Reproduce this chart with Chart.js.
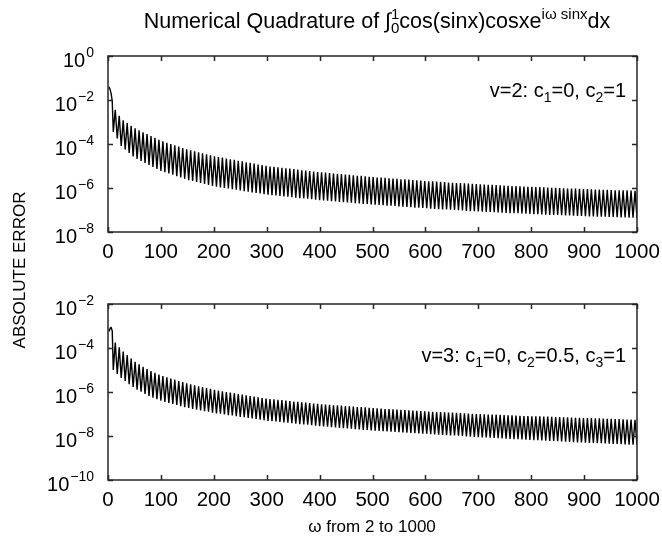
<!DOCTYPE html>
<html>
<head>
<meta charset="utf-8">
<script src="https://cdn.jsdelivr.net/npm/chart.js@4.4.0/dist/chart.umd.min.js"></script>
<style>
  html, body { margin: 0; padding: 0; background: #fff; }
  #wrap { position: relative; width: 662px; height: 546px; }
  #wrap canvas { position: absolute; left: 0; top: 0; }
</style>
</head>
<body>
<div id="wrap">
  <canvas id="chartV3" width="662" height="546"></canvas>
  <canvas id="chartV2" width="662" height="546"></canvas>
</div>
<script>
/* global Chart */

// omega values where the error curve starts, dips and peaks
const startOmega = [2, 4, 6, 8];
const dipOmega = [
  10, 17.5, 25, 32.5, 40, 47.5, 55, 62.5, 70, 77.5,
  85, 92.5, 100, 107.5, 115, 122.5, 130, 137.5, 145, 152.5,
  160, 167.5, 175, 182.5, 190, 197.5, 205, 212.5, 220, 227.5,
  235, 242.5, 250, 257.5, 265, 272.5, 280, 287.5, 295, 302.5,
  310, 317.5, 325, 332.5, 340, 347.5, 355, 362.5, 370, 377.5,
  385, 392.5, 400, 407.5, 415, 422.5, 430, 437.5, 445, 452.5,
  460, 467.5, 475, 482.5, 490, 497.5, 505, 512.5, 520, 527.5,
  535, 542.5, 550, 557.5, 565, 572.5, 580, 587.5, 595, 602.5,
  610, 617.5, 625, 632.5, 640, 647.5, 655, 662.5, 670, 677.5,
  685, 692.5, 700, 707.5, 715, 722.5, 730, 737.5, 745, 752.5,
  760, 767.5, 775, 782.5, 790, 797.5, 805, 812.5, 820, 827.5,
  835, 842.5, 850, 857.5, 865, 872.5, 880, 887.5, 895, 902.5,
  910, 917.5, 925, 932.5, 940, 947.5, 955, 962.5, 970, 977.5,
  985, 992.5, 1000
];
const peakOmega = [
  13.75, 21.25, 28.75, 36.25, 43.75, 51.25, 58.75, 66.25, 73.75, 81.25,
  88.75, 96.25, 103.75, 111.25, 118.75, 126.25, 133.75, 141.25, 148.75, 156.25,
  163.75, 171.25, 178.75, 186.25, 193.75, 201.25, 208.75, 216.25, 223.75, 231.25,
  238.75, 246.25, 253.75, 261.25, 268.75, 276.25, 283.75, 291.25, 298.75, 306.25,
  313.75, 321.25, 328.75, 336.25, 343.75, 351.25, 358.75, 366.25, 373.75, 381.25,
  388.75, 396.25, 403.75, 411.25, 418.75, 426.25, 433.75, 441.25, 448.75, 456.25,
  463.75, 471.25, 478.75, 486.25, 493.75, 501.25, 508.75, 516.25, 523.75, 531.25,
  538.75, 546.25, 553.75, 561.25, 568.75, 576.25, 583.75, 591.25, 598.75, 606.25,
  613.75, 621.25, 628.75, 636.25, 643.75, 651.25, 658.75, 666.25, 673.75, 681.25,
  688.75, 696.25, 703.75, 711.25, 718.75, 726.25, 733.75, 741.25, 748.75, 756.25,
  763.75, 771.25, 778.75, 786.25, 793.75, 801.25, 808.75, 816.25, 823.75, 831.25,
  838.75, 846.25, 853.75, 861.25, 868.75, 876.25, 883.75, 891.25, 898.75, 906.25,
  913.75, 921.25, 928.75, 936.25, 943.75, 951.25, 958.75, 966.25, 973.75, 981.25,
  988.75, 996.25
];

// absolute error as log10, v=2 panel
const startLogV2 = [-1.40, -1.52, -1.72, -2.05];
const dipLogV2 = [
  -3.45, -3.75, -4.09, -4.25, -4.41, -4.57, -4.68, -4.77, -4.86, -4.95,
  -5.04, -5.13, -5.22, -5.28, -5.34, -5.40, -5.46, -5.52, -5.58, -5.64,
  -5.68, -5.73, -5.77, -5.82, -5.86, -5.91, -5.94, -5.97, -6.00, -6.02,
  -6.05, -6.08, -6.11, -6.14, -6.17, -6.20, -6.22, -6.25, -6.28, -6.31,
  -6.33, -6.34, -6.36, -6.38, -6.40, -6.42, -6.44, -6.46, -6.48, -6.49,
  -6.51, -6.53, -6.55, -6.57, -6.58, -6.60, -6.61, -6.63, -6.64, -6.66,
  -6.67, -6.69, -6.70, -6.72, -6.73, -6.75, -6.76, -6.77, -6.78, -6.80,
  -6.81, -6.82, -6.84, -6.85, -6.86, -6.87, -6.89, -6.90, -6.91, -6.92,
  -6.94, -6.95, -6.96, -6.97, -6.98, -6.99, -7.00, -7.01, -7.02, -7.04,
  -7.05, -7.06, -7.07, -7.08, -7.09, -7.09, -7.10, -7.11, -7.12, -7.13,
  -7.14, -7.15, -7.15, -7.16, -7.17, -7.18, -7.19, -7.19, -7.20, -7.21,
  -7.22, -7.22, -7.23, -7.24, -7.25, -7.25, -7.26, -7.27, -7.27, -7.28,
  -7.29, -7.29, -7.30, -7.31, -7.31, -7.32, -7.32, -7.33, -7.34, -7.34,
  -7.35, -7.35, -7.36
];
const peakLogV2 = [
  -2.45, -2.72, -2.92, -3.05, -3.17, -3.29, -3.38, -3.47, -3.55, -3.64,
  -3.72, -3.81, -3.88, -3.94, -4.00, -4.06, -4.12, -4.18, -4.24, -4.29,
  -4.33, -4.38, -4.42, -4.47, -4.51, -4.56, -4.59, -4.62, -4.66, -4.69,
  -4.72, -4.76, -4.79, -4.83, -4.86, -4.89, -4.93, -4.96, -4.99, -5.02,
  -5.04, -5.06, -5.08, -5.10, -5.12, -5.14, -5.16, -5.19, -5.21, -5.23,
  -5.25, -5.27, -5.29, -5.30, -5.32, -5.34, -5.35, -5.37, -5.39, -5.40,
  -5.42, -5.44, -5.45, -5.47, -5.49, -5.50, -5.52, -5.53, -5.54, -5.56,
  -5.57, -5.58, -5.60, -5.61, -5.62, -5.64, -5.65, -5.66, -5.68, -5.69,
  -5.70, -5.71, -5.72, -5.73, -5.75, -5.76, -5.77, -5.78, -5.79, -5.80,
  -5.81, -5.82, -5.83, -5.84, -5.85, -5.86, -5.87, -5.88, -5.89, -5.90,
  -5.91, -5.91, -5.92, -5.93, -5.94, -5.95, -5.96, -5.96, -5.97, -5.98,
  -5.99, -5.99, -6.00, -6.01, -6.02, -6.03, -6.03, -6.04, -6.05, -6.05,
  -6.06, -6.07, -6.07, -6.08, -6.08, -6.09, -6.10, -6.10, -6.11, -6.11,
  -6.12, -6.13
];

// absolute error as log10, v=3 panel
const startLogV3 = [-3.25, -3.10, -3.07, -3.22];
const dipLogV3 = [
  -5.00, -5.18, -5.36, -5.50, -5.64, -5.77, -5.89, -5.99, -6.09, -6.18,
  -6.26, -6.33, -6.40, -6.45, -6.50, -6.54, -6.59, -6.64, -6.69, -6.73,
  -6.77, -6.80, -6.84, -6.87, -6.90, -6.94, -6.97, -6.99, -7.02, -7.05,
  -7.07, -7.10, -7.13, -7.15, -7.18, -7.20, -7.23, -7.26, -7.28, -7.31,
  -7.33, -7.34, -7.36, -7.38, -7.40, -7.42, -7.44, -7.46, -7.48, -7.49,
  -7.51, -7.53, -7.55, -7.57, -7.58, -7.60, -7.61, -7.63, -7.64, -7.66,
  -7.67, -7.69, -7.70, -7.72, -7.73, -7.75, -7.76, -7.77, -7.78, -7.79,
  -7.80, -7.81, -7.83, -7.84, -7.85, -7.86, -7.87, -7.88, -7.89, -7.90,
  -7.92, -7.93, -7.94, -7.95, -7.96, -7.97, -7.98, -7.99, -8.00, -8.02,
  -8.03, -8.04, -8.05, -8.06, -8.07, -8.08, -8.09, -8.10, -8.11, -8.12,
  -8.13, -8.14, -8.15, -8.16, -8.17, -8.18, -8.19, -8.19, -8.20, -8.21,
  -8.22, -8.23, -8.24, -8.25, -8.26, -8.27, -8.28, -8.29, -8.29, -8.30,
  -8.31, -8.32, -8.33, -8.33, -8.34, -8.35, -8.36, -8.36, -8.37, -8.38,
  -8.39, -8.39, -8.40
];
const peakLogV3 = [
  -3.75, -3.97, -4.16, -4.32, -4.48, -4.63, -4.74, -4.85, -4.96, -5.05,
  -5.13, -5.21, -5.28, -5.33, -5.39, -5.44, -5.50, -5.55, -5.61, -5.65,
  -5.70, -5.74, -5.78, -5.82, -5.86, -5.90, -5.94, -5.97, -6.00, -6.03,
  -6.06, -6.09, -6.12, -6.15, -6.18, -6.21, -6.24, -6.27, -6.30, -6.32,
  -6.33, -6.35, -6.37, -6.39, -6.41, -6.43, -6.45, -6.47, -6.48, -6.50,
  -6.52, -6.54, -6.56, -6.57, -6.58, -6.60, -6.61, -6.62, -6.64, -6.65,
  -6.66, -6.68, -6.69, -6.70, -6.72, -6.73, -6.74, -6.75, -6.77, -6.78,
  -6.79, -6.80, -6.81, -6.82, -6.83, -6.84, -6.86, -6.87, -6.88, -6.89,
  -6.90, -6.91, -6.91, -6.92, -6.93, -6.94, -6.95, -6.96, -6.97, -6.98,
  -6.99, -7.00, -7.00, -7.01, -7.02, -7.03, -7.03, -7.04, -7.05, -7.06,
  -7.06, -7.07, -7.08, -7.09, -7.09, -7.10, -7.11, -7.11, -7.12, -7.12,
  -7.13, -7.14, -7.14, -7.15, -7.15, -7.16, -7.17, -7.17, -7.18, -7.19,
  -7.19, -7.20, -7.20, -7.21, -7.22, -7.22, -7.23, -7.23, -7.24, -7.25,
  -7.25, -7.26
];

// axis ticks
const xTicks = [0, 100, 200, 300, 400, 500, 600, 700, 800, 900, 1000];
const yExpV2 = [0, -2, -4, -6, -8];
const yExpV3 = [-2, -4, -6, -8, -10];

const FONT = '"Liberation Sans", Arial, Helvetica, sans-serif';

function setFont(ctx, px) { ctx.font = px + 'px ' + FONT; }

function buildPoints(startLog, dipLog, peakLog) {
  const pts = startOmega.map((w, i) => ({ x: w, y: Math.pow(10, startLog[i]) }));
  for (let k = 0; k < dipOmega.length; k++) {
    pts.push({ x: dipOmega[k], y: Math.pow(10, dipLog[k]) });
    if (k < peakOmega.length) pts.push({ x: peakOmega[k], y: Math.pow(10, peakLog[k]) });
  }
  return pts;
}

// parts: [text, kind, extra]; kind '' | 'sub' | 'sup' | 'lim' (sub text, sup text stacked)
function partWidth(ctx, p, size) {
  if (p[1] === 'lim') {
    setFont(ctx, size * 0.7);
    return Math.max(ctx.measureText(p[0]).width, ctx.measureText(p[2]).width);
  }
  setFont(ctx, p[1] ? size * 0.7 : size);
  return ctx.measureText(p[0]).width;
}

function drawRich(ctx, parts, x, y, size, align) {
  let w = 0;
  parts.forEach(p => { w += partWidth(ctx, p, size); });
  let cx = align === 'center' ? x - w / 2 : (align === 'right' ? x - w : x);
  ctx.textAlign = 'left';
  ctx.textBaseline = 'alphabetic';
  parts.forEach(p => {
    const pw = partWidth(ctx, p, size);
    if (p[1] === 'lim') {
      ctx.fillText(p[0], cx, y + size * 0.25);
      ctx.fillText(p[2], cx, y - size * 0.42);
    } else if (p[1] === 'sub') {
      ctx.fillText(p[0], cx, y + size * 0.25);
    } else if (p[1] === 'sup') {
      ctx.fillText(p[0], cx, y - size * 0.42);
    } else {
      ctx.fillText(p[0], cx, y);
    }
    cx += pw;
  });
}

function framePlugin(yExp, note, notePos, extra) {
  return {
    id: 'frame',
    afterDatasetsDraw(chart) {
      const { ctx, chartArea: a } = chart;
      const xs = chart.scales.x;
      const ys = chart.scales.y;
      ctx.save();
      ctx.strokeStyle = '#262626';
      ctx.lineWidth = 1.5;
      ctx.strokeRect(a.left, a.top, a.right - a.left, a.bottom - a.top);
      ctx.beginPath();
      xTicks.forEach(v => {
        const px = Math.round(xs.getPixelForValue(v)) + 0.5;
        ctx.moveTo(px, a.bottom); ctx.lineTo(px, a.bottom - 5);
        ctx.moveTo(px, a.top); ctx.lineTo(px, a.top + 5);
      });
      yExp.forEach(e => {
        const py = Math.round(ys.getPixelForValue(Math.pow(10, e))) + 0.5;
        ctx.moveTo(a.left, py); ctx.lineTo(a.left + 5, py);
        ctx.moveTo(a.right, py); ctx.lineTo(a.right - 5, py);
      });
      ctx.stroke();

      // y tick labels as 10 with raised exponent
      ctx.fillStyle = '#000';
      ctx.textBaseline = 'alphabetic';
      yExp.forEach(e => {
        const py = ys.getPixelForValue(Math.pow(10, e));
        const expTxt = e < 0 ? '\u2212' + Math.abs(e) : String(e);
        const right = a.left - 14;
        setFont(ctx, 14);
        ctx.textAlign = 'right';
        const ew = ctx.measureText(expTxt).width;
        ctx.fillText(expTxt, right, py + 1);
        setFont(ctx, 20);
        ctx.fillText('10', right - ew - 1, py + 11);
      });

      ctx.fillStyle = '#000';
      drawRich(ctx, note, notePos[0], notePos[1], 20, 'right');
      if (extra) extra(ctx);
      ctx.restore();
    }
  };
}

function makeChart(id, pts, yExp, padTop, padBottom, note, notePos, extra) {
  return new Chart(document.getElementById(id).getContext('2d'), {
    type: 'line',
    data: {
      datasets: [{
        data: pts,
        parsing: false,
        borderColor: '#000',
        borderWidth: 1.4,
        pointRadius: 0,
        tension: 0,
        fill: false
      }]
    },
    options: {
      responsive: false,
      animation: false,
      devicePixelRatio: 1,
      events: [],
      layout: { padding: { left: 108, right: 25, top: padTop, bottom: padBottom } },
      scales: {
        x: {
          type: 'linear',
          min: 0,
          max: 1000,
          afterBuildTicks: s => { s.ticks = xTicks.map(v => ({ value: v })); },
          afterFit: s => { s.height = 38; s.paddingLeft = 0; s.paddingRight = 0; },
          ticks: {
            color: '#000',
            font: { size: 20.5, family: FONT },
            padding: 8,
            maxRotation: 0,
            autoSkip: false,
            callback: v => String(v)
          },
          grid: { display: false, drawTicks: false },
          border: { display: false }
        },
        y: {
          type: 'logarithmic',
          min: Math.pow(10, yExp[yExp.length - 1]),
          max: Math.pow(10, yExp[0]),
          afterFit: s => { s.width = 0; },
          ticks: { display: false },
          grid: { display: false, drawTicks: false },
          border: { display: false }
        }
      },
      plugins: { legend: { display: false }, tooltip: { enabled: false } }
    },
    plugins: [framePlugin(yExp, note, notePos, extra)]
  });
}

const titleParts = [
  ['Numerical Quadrature of ', ''], ['\u222B', ''], ['0', 'lim', '1'],
  ['cos(sinx)cosxe', ''], ['i\u03C9 sinx', 'sup'], ['dx', '']
];

makeChart('chartV2', buildPoints(startLogV2, dipLogV2, peakLogV2), yExpV2, 56, 276,
  [['v=2: c', ''], ['1', 'sub'], ['=0, c', ''], ['2', 'sub'], ['=1', '']], [626, 97],
  ctx => {
    ctx.fillStyle = '#000';
    drawRich(ctx, titleParts, 377, 28, 21.5, 'center');
  });

makeChart('chartV3', buildPoints(startLogV3, dipLogV3, peakLogV3), yExpV3, 304, 28,
  [['v=3: c', ''], ['1', 'sub'], ['=0, c', ''], ['2', 'sub'], ['=0.5, c', ''], ['3', 'sub'], ['=1', '']], [626, 362],
  ctx => {
    ctx.fillStyle = '#000';
    setFont(ctx, 17);
    ctx.textAlign = 'center';
    ctx.textBaseline = 'middle';
    ctx.fillText('\u03C9 from 2 to 1000', 372, 527);
    ctx.save();
    ctx.translate(20, 270);
    ctx.rotate(-Math.PI / 2);
    ctx.fillText('ABSOLUTE ERROR', 0, 0);
    ctx.restore();
  });
</script>
</body>
</html>
